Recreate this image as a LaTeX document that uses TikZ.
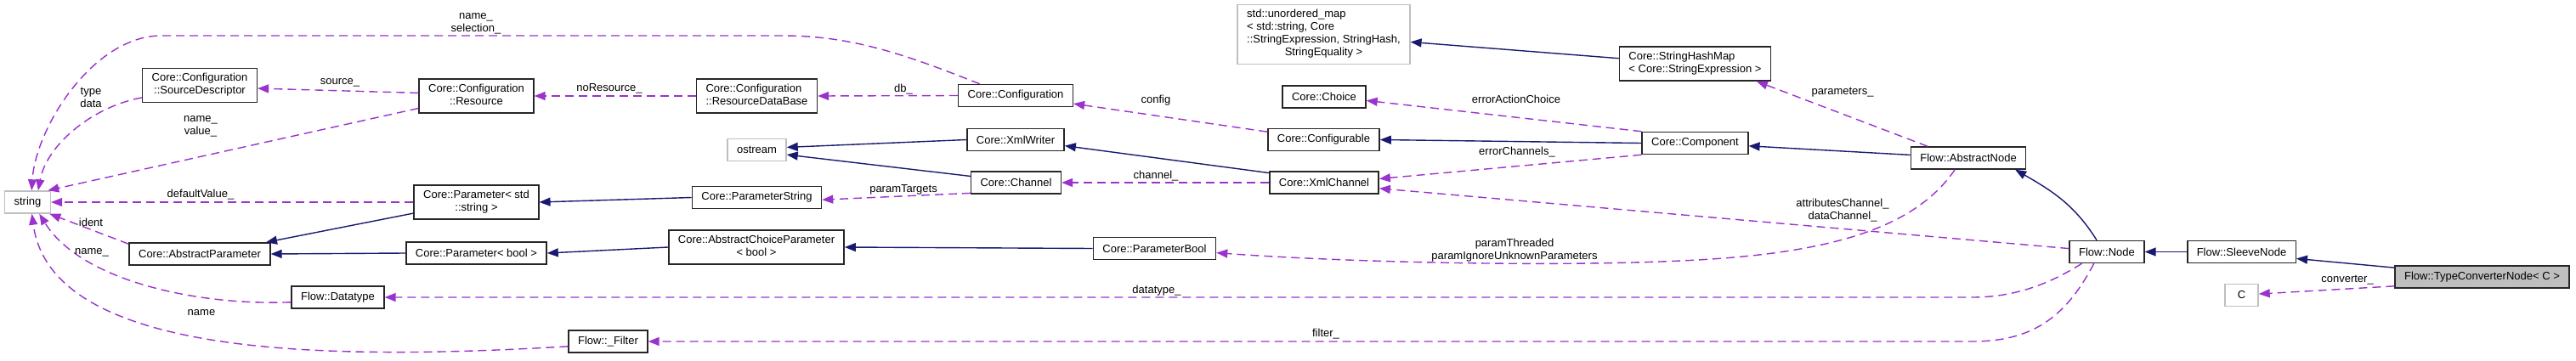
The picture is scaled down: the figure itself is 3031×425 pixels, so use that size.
\documentclass[tikz,border=0pt]{standalone}
\usepackage{fontspec}
\setmainfont{Liberation Sans}
\usetikzlibrary{arrows.meta}
\definecolor{inhblue}{HTML}{191970}
\definecolor{useorchid}{HTML}{9A32CD}
\newcommand\lastmid[2]{\begin{tabular}{@{}l@{}}#1\\\multicolumn{1}{@{}c@{}}{#2}\end{tabular}}

\begin{document}
\begin{tikzpicture}[x=1pt,y=-1pt,font=\fontsize{13}{15}\selectfont,
  cls/.style={draw=black!85,line width=1.5pt,fill=white,inner xsep=11pt,inner ysep=5pt,minimum height=26pt},
  ext/.style={cls,draw=gray!50},
  cur/.style={cls,fill=gray!50},
  inh/.style={draw=inhblue,line width=1.4pt,-{Triangle[length=13pt,width=10pt]}},
  usage/.style={draw=useorchid,line width=1.4pt,dash pattern=on 10pt off 6pt,-{Triangle[length=13pt,width=10pt]}},
  lbl/.style={align=center,inner sep=0pt}]
\useasboundingbox (0,0) rectangle (3031,425);

\node[ext] (str) at (32.5,238) {string};
\node[cls] (srcdesc) at (235,100.5) {\lastmid{Core::Configuration}{::SourceDescriptor}};
\node[cls] (resource) at (560.5,113) {\lastmid{Core::Configuration}{::Resource}};
\node[cls] (parstd) at (560.5,238) {\lastmid{Core::Parameter< std}{::string >}};
\node[cls] (absparam) at (235,299) {Core::AbstractParameter};
\node[cls] (parbool) at (560.5,298) {Core::Parameter< bool >};
\node[cls] (datatype) at (397.5,350) {Flow::Datatype};
\node[cls] (filter) at (715.5,402) {Flow::\_Filter};
\node[cls] (resdb) at (890.5,113) {\lastmid{Core::Configuration}{::ResourceDataBase}};
\node[ext] (ostream) at (890.5,176.5) {ostream};
\node[cls] (parstring) at (890.5,232.5) {Core::ParameterString};
\node[cls] (choicebool) at (890,291) {\lastmid{Core::AbstractChoiceParameter}{< bool >}};
\node[cls] (config) at (1195,112.5) {Core::Configuration};
\node[cls] (xmlwriter) at (1195,164.5) {Core::XmlWriter};
\node[cls] (channel) at (1195.5,215) {Core::Channel};
\node[cls] (parambool) at (1358.5,292.5) {Core::ParameterBool};
\node[ext] (umap) at (1557.5,40.5) {\lastmid{std::unordered\_map\\< std::string, Core\\::StringExpression, StringHash,}{StringEquality >}};
\node[cls] (choice) at (1558,114) {Core::Choice};
\node[cls] (configurable) at (1557.5,164.5) {Core::Configurable};
\node[cls] (xmlchannel) at (1558,215) {Core::XmlChannel};
\node[cls] (shmap) at (1994.5,75) {\lastmid{Core::StringHashMap}{< Core::StringExpression >}};
\node[cls] (component) at (1994.5,168.5) {Core::Component};
\node[cls] (absnode) at (2316,186) {Flow::AbstractNode};
\node[cls] (flownode) at (2479,296.5) {Flow::Node};
\node[cls] (sleeve) at (2637.5,296.5) {Flow::SleeveNode};
\node[cur] (typeconv) at (2920.5,326) {Flow::TypeConverterNode< C >};
\node[ext,minimum width=39pt] (cparam) at (2637.5,347.5) {C};

\foreach \from/\to in {parstd.190/absparam.10, parbool.west/absparam.east,
  parstring.west/parstd.east, choicebool.west/parbool.east, parambool.west/choicebool.east,
  xmlwriter.west/ostream.5, channel.172/ostream.351, xmlchannel.170/xmlwriter.353,
  shmap.176/umap.355, component.west/configurable.east, absnode.177/component.357,
  sleeve.west/flownode.east, typeconv.174/sleeve.353}
  \draw[inh] (\from) -- (\to);
\draw[inh] (flownode.131) to[out=122,in=-30] (absnode.346);

\foreach \from/\to in {resource.177/srcdesc.357, resource.192/str.30, parstd.west/str.east,
  resdb.west/resource.east, config.west/resdb.east, configurable.172/config.352,
  component.north west/choice.355, component.south west/xmlchannel.4,
  xmlchannel.west/channel.east, channel.193/parstring.358, flownode.175/xmlchannel.354,
  absnode.164/shmap.344, absparam.172/str.-28, typeconv.186/cparam.4}
  \draw[usage] (\from) -- (\to);
\draw[usage] (config.162) .. controls (1060,62) and (1000,42) .. (920,42) -- (190,42)
  .. controls (110,42) and (42,150) .. (str.71);
\draw[usage] (srcdesc.192) .. controls (110,125) and (55,170) .. (str.48);
\draw[usage] (datatype.186) .. controls (230,360) and (95,330) .. (str.-45);
\draw[usage] (filter.187) .. controls (380,425) and (60,420) .. (str.-70);
\draw[usage] (absnode.221) .. controls (2262,255) and (2190,290) .. (2040,303)
  .. controls (1890,316) and (1600,310) .. (parambool.356);
\draw[usage] (flownode.205) .. controls (2410,335) and (2370,350) .. (2320,350) -- (datatype.east);
\draw[usage] (flownode.222) .. controls (2430,375) and (2390,402) .. (2320,402) -- (filter.east);

\node[lbl] (l-namesel) at (560,28) {name\_\\selection\_};
\node[lbl] (l-typedata) at (107,115) {type\\data};
\node[lbl] (l-source) at (400,97) {source\_};
\node[lbl] (l-namevalue) at (236,149) {name\_\\value\_};
\node[lbl] (l-noresource) at (717,104) {noResource\_};
\node[lbl] (l-db) at (1063,105) {db\_};
\node[lbl] (l-config) at (1360,118) {config};
\node[lbl] (l-erraction) at (1784,117) {errorActionChoice};
\node[lbl] (l-errchan) at (1785,179) {errorChannels\_};
\node[lbl] (l-channel) at (1360,207) {channel\_};
\node[lbl] (l-targets) at (1063,223) {paramTargets};
\node[lbl] (l-attrdata) at (2168,248) {attributesChannel\_\\dataChannel\_};
\node[lbl] (l-parameters) at (2168,109) {parameters\_};
\node[lbl] (l-threaded) at (1782,295) {paramThreaded\\paramIgnoreUnknownParameters};
\node[lbl] (l-datatype) at (1361,342) {datatype\_};
\node[lbl] (l-filter) at (1560,393) {filter\_};
\node[lbl] (l-dtname) at (108,297) {name\_};
\node[lbl] (l-ident) at (107,262) {ident};
\node[lbl] (l-name) at (237,368) {name};
\node[lbl] (l-default) at (236,229) {defaultValue\_};
\node[lbl] (l-converter) at (2762,330) {converter\_};
\end{tikzpicture}
\end{document}
